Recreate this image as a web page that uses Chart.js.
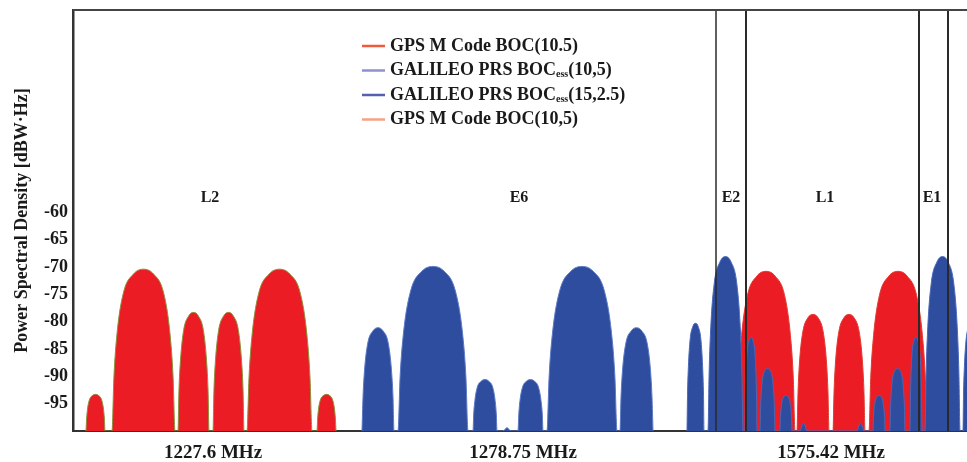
<!DOCTYPE html>
<html>
<head>
<meta charset="utf-8">
<title>Power Spectral Density</title>
<script src="https://cdn.jsdelivr.net/npm/chart.js@4.4.0/dist/chart.umd.min.js"></script>
<style>
  html, body { margin: 0; padding: 0; background: #fff; }
  #wrap { width: 967px; height: 462px; position: relative; }
</style>
</head>
<body>
<div id="wrap"><canvas id="myChart"></canvas></div>
<script>
const SERIF = "'Liberation Serif', 'Times New Roman', serif";

// axis ticks and labels
const yTicks = [-95, -90, -85, -80, -75, -70, -65, -60];
const xTickPos = [140, 450, 758];
const xLabels = ['1227.6 MHz', '1278.75 MHz', '1575.42 MHz'];

// band names and band edge lines (x in plot units)
const bandNames = ['L2', 'E6', 'E2', 'L1', 'E1'];
const bandNameX = [137, 446, 658, 752, 859];
const bandEdges = [643, 673, 846, 875];

// legend
const legendNames = [
    ['GPS M Code BOC(10.5)'],
    ['GALILEO PRS BOC', 'ess', '(10,5)'],
    ['GALILEO PRS BOC', 'ess', '(15,2.5)'],
    ['GPS M Code BOC(10,5)']
];
const legendColors = ['#ef5a3c', '#8f90cf', '#5560b0', '#f5a286'];

// GPS M code around L2
const gpsL2X = [
    13, 13.6, 14.5, 16.4, 19.5, 22.5, 25.5, 28.6, 30.5, 31.4, 32,
    39, 40.9, 44, 50.3, 60.4, 70.5, 80.6, 90.7, 97, 100.1, 102,
    105, 105.9, 107.5, 110.6, 115.5, 120.5, 125.5, 130.4, 133.5, 135.1, 136,
    140, 140.9, 142.5, 145.6, 150.5, 155.5, 160.5, 165.4, 168.5, 170.1, 171,
    174, 176, 179.2, 185.7, 196.1, 206.5, 216.9, 227.3, 233.8, 237, 239,
    244, 244.6, 245.5, 247.4, 250.5, 253.5, 256.5, 259.6, 261.5, 262.4, 263
];
const gpsL2Y = [
    -100, -97.8, -96, -94.3, -93.5, -93.3, -93.5, -94.3, -96, -97.8, -100,
    -100, -90.2, -82.2, -74.8, -71.3, -70.4, -71.3, -74.8, -82.2, -90.2, -100,
    -100, -92.8, -87, -81.6, -79, -78.3, -79, -81.6, -87, -92.8, -100,
    -100, -92.8, -87, -81.6, -79, -78.3, -79, -81.6, -87, -92.8, -100,
    -100, -90.2, -82.2, -74.8, -71.3, -70.4, -71.3, -74.8, -82.2, -90.2, -100,
    -100, -97.8, -96, -94.3, -93.5, -93.3, -93.5, -94.3, -96, -97.8, -100
];

// Galileo PRS around E6
const galE6X = [
    289, 290, 291.6, 294.8, 299.9, 305, 310.1, 315.2, 318.4, 320, 321,
    325, 327.1, 330.6, 337.6, 348.8, 360, 371.2, 382.4, 389.4, 392.9, 395,
    400, 400.7, 401.9, 404.3, 408.2, 412, 415.8, 419.7, 422.1, 423.3, 424,
    430, 434, 438,
    445, 445.8, 447, 449.5, 453.5, 457.5, 461.5, 465.5, 468, 469.3, 470,
    474, 476.1, 479.6, 486.6, 497.8, 509, 520.2, 531.4, 538.4, 541.9, 544,
    547, 548, 549.6, 552.9, 558.2, 563.5, 568.8, 574.1, 577.4, 579, 580
];
const galE6Y = [
    -100, -93.8, -88.7, -83.9, -81.7, -81.1, -81.7, -83.9, -88.7, -93.8, -100,
    -100, -90.1, -81.9, -74.4, -70.8, -69.9, -70.8, -74.4, -81.9, -90.1, -100,
    -100, -96.9, -94.4, -92, -90.9, -90.6, -90.9, -92, -94.4, -96.9, -100,
    -100, -99.4, -100,
    -100, -96.9, -94.4, -92, -90.9, -90.6, -90.9, -92, -94.4, -96.9, -100,
    -100, -90.1, -81.9, -74.4, -70.8, -69.9, -70.8, -74.4, -81.9, -90.1, -100,
    -100, -93.8, -88.7, -83.9, -81.7, -81.1, -81.7, -83.9, -88.7, -93.8, -100
];

// GPS M code around L1
const gpsL1X = [
    641, 641.6, 642.6, 644.6, 647.8, 651, 654.2, 657.4, 659.4, 660.4, 661,
    664, 665.7, 668.6, 674.4, 683.7, 693, 702.3, 711.6, 717.4, 720.3, 722,
    724, 725, 726.6, 729.8, 734.9, 740, 745.1, 750.2, 753.4, 755, 756,
    760, 761, 762.6, 765.8, 770.9, 776, 781.1, 786.2, 789.4, 791, 792,
    796, 797.7, 800.6, 806.4, 815.7, 825, 834.3, 843.6, 849.4, 852.3, 854,
    857, 857.6, 858.6, 860.6, 863.8, 867, 870.2, 873.4, 875.4, 876.4, 877
];
const gpsL1Y = [
    -100, -97.4, -95.2, -93.2, -92.2, -92, -92.2, -93.2, -95.2, -97.4, -100,
    -100, -90.4, -82.5, -75.2, -71.7, -70.8, -71.7, -75.2, -82.5, -90.4, -100,
    -100, -93, -87.2, -81.9, -79.3, -78.7, -79.3, -81.9, -87.2, -93, -100,
    -100, -93, -87.2, -81.9, -79.3, -78.7, -79.3, -81.9, -87.2, -93, -100,
    -100, -90.4, -82.5, -75.2, -71.7, -70.8, -71.7, -75.2, -82.5, -90.4, -100,
    -100, -97.4, -95.2, -93.2, -92.2, -92, -92.2, -93.2, -95.2, -97.4, -100
];

// Galileo PRS around E2-L1-E1
const galE1X = [
    614, 614.5, 615.4, 617.1, 619.8, 622.5, 625.2, 627.9, 629.6, 630.5, 631,
    635, 636.1, 637.8, 641.3, 646.9, 652.5, 658.1, 663.7, 667.2, 668.9, 670,
    672, 672.4, 673, 674.2, 676.1, 678, 679.9, 681.8, 683, 683.6, 684,
    687, 687.5, 688.2, 689.7, 692.1, 694.5, 696.9, 699.3, 700.8, 701.5, 702,
    707, 707.4, 708, 709.2, 711.1, 713, 714.9, 716.8, 718, 718.6, 719,
    727, 728.5, 730.5, 732.5, 734,
    784, 785.5, 787.5, 789.5, 791,
    800, 800.4, 801, 802.2, 804.1, 806, 807.9, 809.8, 811, 811.6, 812,
    817, 817.5, 818.2, 819.7, 822.1, 824.5, 826.9, 829.3, 830.8, 831.5, 832,
    837, 837.4, 838, 839.2, 841.1, 843, 844.9, 846.8, 848, 848.6, 849,
    852, 853.1, 854.8, 858.3, 863.9, 869.5, 875.1, 880.7, 884.2, 885.9, 887,
    890, 890.5, 891.4, 893.1, 895.8, 898.5, 901.2, 903.9, 905.6, 906.5, 907
];
const galE1Y = [
    -100, -93.5, -88.2, -83.3, -80.9, -80.3, -80.9, -83.3, -88.2, -93.5, -100,
    -100, -89.5, -80.9, -72.9, -69.1, -68.1, -69.1, -72.9, -80.9, -89.5, -100,
    -100, -94.4, -89.7, -85.5, -83.4, -82.9, -83.4, -85.5, -89.7, -94.4, -100,
    -100, -96.2, -93.2, -90.3, -88.9, -88.6, -88.9, -90.3, -93.2, -96.2, -100,
    -100, -97.9, -96.1, -94.5, -93.7, -93.5, -93.7, -94.5, -96.1, -97.9, -100,
    -100, -99.3, -98.6, -99.3, -100,
    -100, -99.3, -98.6, -99.3, -100,
    -100, -97.9, -96.1, -94.5, -93.7, -93.5, -93.7, -94.5, -96.1, -97.9, -100,
    -100, -96.2, -93.2, -90.3, -88.9, -88.6, -88.9, -90.3, -93.2, -96.2, -100,
    -100, -94.4, -89.7, -85.5, -83.4, -82.9, -83.4, -85.5, -89.7, -94.4, -100,
    -100, -89.5, -80.9, -72.9, -69.1, -68.1, -69.1, -72.9, -80.9, -89.5, -100,
    -100, -93.5, -88.2, -83.3, -80.9, -80.3, -80.9, -83.3, -88.2, -93.5, -100
];

const toPoints = (xs, ys) => xs.map((x, i) => ({ x, y: ys[i] }));

const RED = '#ec1c24';
const BLUE = '#2f4d9f';

const lobes = (label, xs, ys, fillColor, edgeColor, order) => ({
    label,
    data: toPoints(xs, ys),
    backgroundColor: fillColor,
    borderColor: edgeColor,
    borderWidth: 1,
    pointRadius: 0,
    fill: 'start',
    cubicInterpolationMode: 'monotone',
    order
});

const decor = {
    id: 'decor',
    afterDatasetsDraw(chart) {
        const { ctx, chartArea } = chart;
        const xs = chart.scales.x;
        const ys = chart.scales.y;
        ctx.save();

        // band edges
        ctx.strokeStyle = '#2a2a2a';
        bandEdges.forEach((v, i) => {
            const px = Math.round(xs.getPixelForValue(v));
            ctx.lineWidth = i === 0 ? 1.5 : 2;
            ctx.beginPath();
            ctx.moveTo(px, chartArea.top);
            ctx.lineTo(px, chartArea.bottom);
            ctx.stroke();
        });

        // top frame
        ctx.strokeStyle = '#444';
        ctx.lineWidth = 2;
        ctx.beginPath();
        ctx.moveTo(chartArea.left, chartArea.top);
        ctx.lineTo(chartArea.right, chartArea.top);
        ctx.stroke();

        // band names
        ctx.fillStyle = '#1a1a1a';
        ctx.font = 'bold 16px ' + SERIF;
        ctx.textAlign = 'center';
        ctx.textBaseline = 'middle';
        bandNames.forEach((name, i) => {
            ctx.fillText(name, xs.getPixelForValue(bandNameX[i]), ys.getPixelForValue(-57.3));
        });

        // legend
        const lx = 362, ly0 = 46, dy = 24.5;
        ctx.textAlign = 'left';
        legendNames.forEach((parts, i) => {
            const y = ly0 + i * dy;
            ctx.strokeStyle = legendColors[i];
            ctx.lineWidth = 2.5;
            ctx.beginPath();
            ctx.moveTo(lx, y);
            ctx.lineTo(lx + 23, y);
            ctx.stroke();
            let x = lx + 28;
            parts.forEach((p, j) => {
                const sub = parts.length === 3 && j === 1;
                ctx.font = sub ? 'bold 10px ' + SERIF : 'bold 18px ' + SERIF;
                ctx.fillStyle = '#1a1a1a';
                ctx.fillText(p, x, sub ? y + 4 : y);
                x += ctx.measureText(p).width;
            });
        });
        ctx.restore();
    }
};

const config = {
    type: 'line',
    data: {
        datasets: [
            lobes('GALILEO PRS E6', galE6X, galE6Y, BLUE, '#5a78c4', 0),
            lobes('GALILEO PRS E1', galE1X, galE1Y, BLUE, '#4a68b8', 0),
            lobes('GPS M Code L2', gpsL2X, gpsL2Y, RED, '#8a8f3a', 1),
            lobes('GPS M Code L1', gpsL1X, gpsL1Y, RED, '#e03a30', 1)
        ]
    },
    options: {
        responsive: true,
        maintainAspectRatio: false,
        animation: false,
        layout: { padding: { top: 10, right: 0, left: 0, bottom: 0 } },
        plugins: {
            legend: { display: false },
            tooltip: { enabled: false }
        },
        scales: {
            x: {
                type: 'linear',
                min: 0,
                max: 894,
                z: 1,
                grid: { display: false, drawTicks: false },
                border: { color: '#333', width: 2 },
                afterBuildTicks: (s) => { s.ticks = xTickPos.map((v) => ({ value: v })); },
                afterFit: (s) => { s.height = 31; s.paddingLeft = 0; s.paddingRight = 0; },
                ticks: {
                    autoSkip: false,
                    maxRotation: 0,
                    padding: 11,
                    color: '#1a1a1a',
                    font: { family: SERIF, size: 19, weight: 'bold' },
                    callback: (v, i) => xLabels[i]
                }
            },
            y: {
                min: -100,
                max: -23,
                z: 1,
                grid: { display: false, drawTicks: false },
                border: { color: '#333', width: 2.5 },
                afterBuildTicks: (s) => { s.ticks = yTicks.map((v) => ({ value: v })); },
                afterFit: (s) => { s.width = 73; s.paddingTop = 0; s.paddingBottom = 0; },
                ticks: {
                    padding: 5,
                    color: '#1a1a1a',
                    font: { family: SERIF, size: 18, weight: 'bold' }
                },
                title: {
                    display: true,
                    text: 'Power Spectral Density [dBW·Hz]',
                    color: '#1a1a1a',
                    font: { family: SERIF, size: 18, weight: 'bold' },
                    padding: { top: 12, bottom: 0 }
                }
            }
        }
    },
    plugins: [decor]
};

const myChart = new Chart(document.getElementById('myChart'), config);
</script>
</body>
</html>
